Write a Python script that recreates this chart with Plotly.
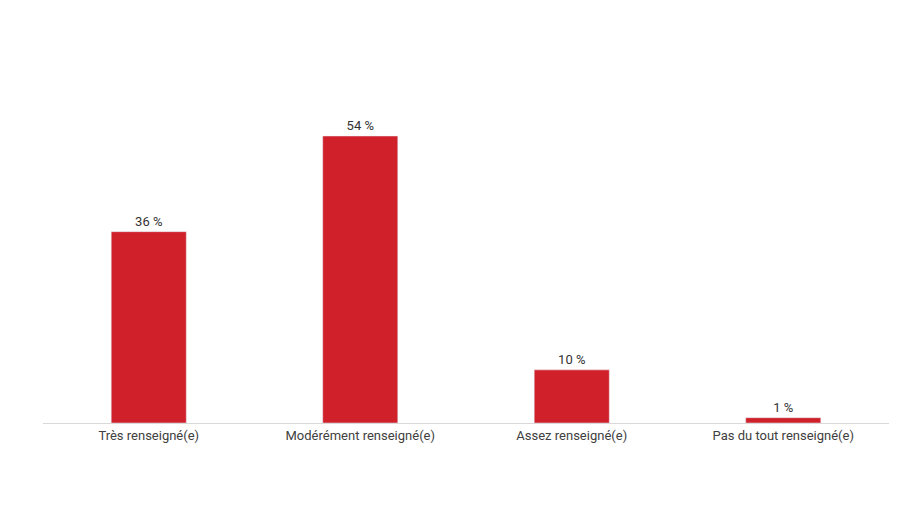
import plotly.graph_objects as go

categories = ["Très renseigné(e)", "Modérément renseigné(e)", "Assez renseigné(e)", "Pas du tout renseigné(e)"]
values = [36, 54, 10, 1]
labels = ["36 %", "54 %", "10 %", "1 %"]

fig = go.Figure(go.Bar(
    x=categories, y=values, text=labels, textposition="outside",
    marker_color="#D0202A", cliponaxis=False,
    textfont=dict(size=13, color="#333333"),
))
fig.update_layout(
    width=900, height=506, plot_bgcolor="white", paper_bgcolor="white",
    margin=dict(l=35, r=19, t=60, b=91), bargap=0.645,
    font=dict(family="Roboto, Liberation Sans, sans-serif", size=13, color="#404040"),
    showlegend=False,
)
fig.update_yaxes(range=[0, 66.8], visible=False)
fig.update_xaxes(showline=True, linecolor="#D9D9D9", linewidth=1, ticks="", tickfont=dict(size=13, color="#404040"))
fig.write_html("out.html")
